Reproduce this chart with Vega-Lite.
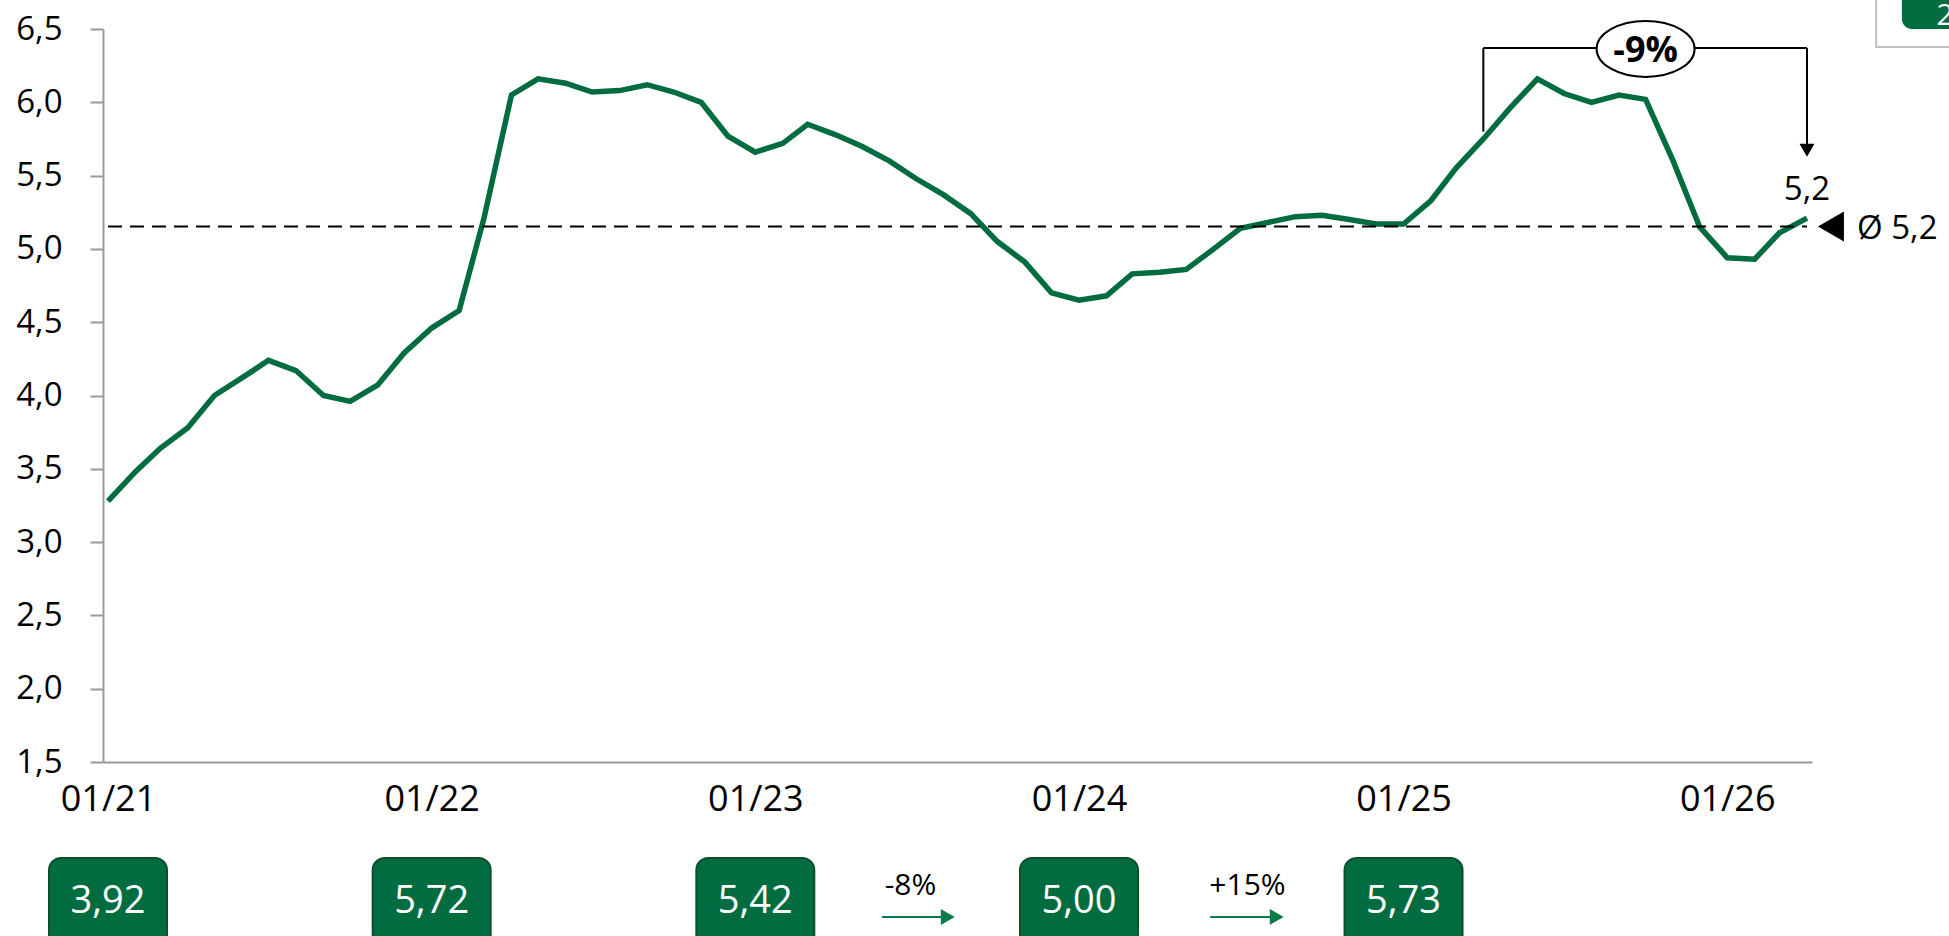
{
  "$schema": "https://vega.github.io/schema/vega-lite/v6.json",
  "usermeta": {"embedOptions": {"actions": false}},
  "background": "white",
  "width": 1709,
  "height": 733,
  "autosize": {"type": "none"},
  "padding": {"left": 103, "top": 29, "right": 137, "bottom": 174},
  "config": {
    "view": {"stroke": null},
    "font": "Open Sans",
    "locale": {"number": {"decimal": ",", "thousands": ".", "grouping": [3], "currency": ["", " €"]}}
  },
  "datasets": {
    "series": [
      {"date": "2021-01-01", "value": 3.28}, {"date": "2021-02-01", "value": 3.48}, {"date": "2021-03-01", "value": 3.64},
      {"date": "2021-04-01", "value": 3.78}, {"date": "2021-05-01", "value": 4.00}, {"date": "2021-06-01", "value": 4.12},
      {"date": "2021-07-01", "value": 4.24}, {"date": "2021-08-01", "value": 4.17}, {"date": "2021-09-01", "value": 4.00},
      {"date": "2021-10-01", "value": 3.96}, {"date": "2021-11-01", "value": 4.07}, {"date": "2021-12-01", "value": 4.29},
      {"date": "2022-01-01", "value": 4.46}, {"date": "2022-02-01", "value": 4.58}, {"date": "2022-03-01", "value": 5.21},
      {"date": "2022-04-01", "value": 6.05}, {"date": "2022-05-01", "value": 6.16}, {"date": "2022-06-01", "value": 6.13},
      {"date": "2022-07-01", "value": 6.07}, {"date": "2022-08-01", "value": 6.08}, {"date": "2022-09-01", "value": 6.12},
      {"date": "2022-10-01", "value": 6.07}, {"date": "2022-11-01", "value": 6.00}, {"date": "2022-12-01", "value": 5.77},
      {"date": "2023-01-01", "value": 5.66}, {"date": "2023-02-01", "value": 5.72}, {"date": "2023-03-01", "value": 5.85},
      {"date": "2023-04-01", "value": 5.78}, {"date": "2023-05-01", "value": 5.70}, {"date": "2023-06-01", "value": 5.60},
      {"date": "2023-07-01", "value": 5.48}, {"date": "2023-08-01", "value": 5.37}, {"date": "2023-09-01", "value": 5.24},
      {"date": "2023-10-01", "value": 5.05}, {"date": "2023-11-01", "value": 4.91}, {"date": "2023-12-01", "value": 4.70},
      {"date": "2024-01-01", "value": 4.65}, {"date": "2024-02-01", "value": 4.68}, {"date": "2024-03-01", "value": 4.83},
      {"date": "2024-04-01", "value": 4.84}, {"date": "2024-05-01", "value": 4.86}, {"date": "2024-06-01", "value": 5.00},
      {"date": "2024-07-01", "value": 5.14}, {"date": "2024-08-01", "value": 5.18}, {"date": "2024-09-01", "value": 5.22},
      {"date": "2024-10-01", "value": 5.23}, {"date": "2024-11-01", "value": 5.20}, {"date": "2024-12-01", "value": 5.17},
      {"date": "2025-01-01", "value": 5.17}, {"date": "2025-02-01", "value": 5.33}, {"date": "2025-03-01", "value": 5.55},
      {"date": "2025-04-01", "value": 5.75}, {"date": "2025-05-01", "value": 5.96}, {"date": "2025-06-01", "value": 6.16},
      {"date": "2025-07-01", "value": 6.06}, {"date": "2025-08-01", "value": 6.00}, {"date": "2025-09-01", "value": 6.05},
      {"date": "2025-10-01", "value": 6.02}, {"date": "2025-11-01", "value": 5.60}, {"date": "2025-12-01", "value": 5.15},
      {"date": "2026-01-01", "value": 4.94}, {"date": "2026-02-01", "value": 4.93}, {"date": "2026-03-01", "value": 5.11},
      {"date": "2026-04-01", "value": 5.21}
    ],
    "annual": [
      {"year": "2021-01-01", "avg": 3.92},
      {"year": "2022-01-01", "avg": 5.72},
      {"year": "2023-01-01", "avg": 5.42},
      {"year": "2024-01-01", "avg": 5.00},
      {"year": "2025-01-01", "avg": 5.73}
    ],
    "note": [{"kind": "annotation"}]
  },
  "data": {"name": "series"},
  "layer": [
    {
      "mark": {"type": "line", "color": "#006c3f", "strokeWidth": 5.5},
      "encoding": {
        "x": {
          "field": "date", "type": "temporal",
          "scale": {"type": "utc", "domain": [{"year": 2021, "month": 1, "date": 1, "utc": true}, {"year": 2026, "month": 4, "date": 1, "utc": true}]},
          "axis": {
            "title": null, "format": "%m/%y",
            "values": [
              {"year": 2021, "month": 1, "date": 1, "utc": true}, {"year": 2022, "month": 1, "date": 1, "utc": true},
              {"year": 2023, "month": 1, "date": 1, "utc": true}, {"year": 2024, "month": 1, "date": 1, "utc": true},
              {"year": 2025, "month": 1, "date": 1, "utc": true}, {"year": 2026, "month": 1, "date": 1, "utc": true}
            ],
            "ticks": false, "tickSize": 0, "labelPadding": 20, "labelFontSize": 36, "labelColor": "#000000",
            "labelFont": "Open Sans", "domainColor": "#999999", "domainWidth": 2, "grid": false,
            "labelFlush": false, "labelOverlap": false
          }
        },
        "y": {
          "field": "value", "type": "quantitative",
          "scale": {"domain": [1.5, 6.5], "zero": false, "nice": false},
          "axis": {
            "title": null, "values": [1.5, 2, 2.5, 3, 3.5, 4, 4.5, 5, 5.5, 6, 6.5],
            "labelExpr": "replace(format(datum.value, '.1f'), '.', ',')",
            "tickSize": 13, "tickColor": "#999999", "tickWidth": 2, "domainColor": "#999999", "domainWidth": 2,
            "labelPadding": 28, "labelFontSize": 33, "labelColor": "#000000", "labelFont": "Open Sans",
            "grid": false, "labelFlush": false, "labelOverlap": false
          }
        }
      }
    },
    {
      "transform": [
        {"aggregate": [
          {"op": "mean", "field": "value", "as": "mean"},
          {"op": "min", "field": "date", "as": "first"},
          {"op": "max", "field": "date", "as": "last"}
        ]},
        {"calculate": "'Ø ' + replace(format(datum.mean, '.1f'), '.', ',')", "as": "meanLabel"}
      ],
      "layer": [
        {
          "mark": {"type": "rule", "color": "#000000", "strokeWidth": 2, "strokeDash": [14, 8]},
          "encoding": {
            "x": {"field": "first", "type": "temporal"},
            "x2": {"field": "last"},
            "y": {"field": "mean", "type": "quantitative"}
          }
        },
        {
          "mark": {"type": "text", "align": "left", "baseline": "middle", "dx": 50, "dy": 3, "fontSize": 33, "color": "#000000", "font": "Open Sans"},
          "encoding": {
            "x": {"field": "last", "type": "temporal"},
            "y": {"field": "mean", "type": "quantitative"},
            "text": {"field": "meanLabel"}
          }
        },
        {
          "mark": {"type": "point", "shape": "triangle-left", "filled": true, "color": "#000000", "size": 900, "opacity": 1},
          "encoding": {
            "x": {"datum": {"year": 2026, "month": 4, "date": 28, "utc": true}, "type": "temporal"},
            "y": {"field": "mean", "type": "quantitative"}
          }
        }
      ]
    },
    {
      "transform": [
        {"joinaggregate": [{"op": "max", "field": "date", "as": "lastDate"}]},
        {"filter": "time(datum.date) === time(datum.lastDate)"},
        {"calculate": "replace(format(datum.value, '.1f'), '.', ',')", "as": "lbl"}
      ],
      "mark": {"type": "text", "fontSize": 33, "dy": -28, "baseline": "middle", "align": "center", "color": "#000000", "font": "Open Sans"},
      "encoding": {
        "x": {"field": "date", "type": "temporal"},
        "y": {"field": "value", "type": "quantitative"},
        "text": {"field": "lbl"}
      }
    },
    {
      "data": {"name": "annual"},
      "layer": [
        {
          "mark": {"type": "bar", "width": 118, "cornerRadius": 12, "fill": "#006c3f", "stroke": "#0b4f2e", "strokeWidth": 2},
          "encoding": {
            "x": {"field": "year", "type": "temporal"},
            "y": {"datum": 0.845, "type": "quantitative"},
            "y2": {"datum": 0.245}
          }
        },
        {
          "transform": [{"calculate": "replace(format(datum.avg, '.2f'), '.', ',')", "as": "lbl"}],
          "mark": {"type": "text", "fontSize": 38, "color": "#ffffff", "align": "center", "baseline": "middle", "font": "Open Sans"},
          "encoding": {
            "x": {"field": "year", "type": "temporal"},
            "y": {"datum": 0.545, "type": "quantitative"},
            "text": {"field": "lbl"}
          }
        }
      ]
    },
    {
      "data": {"name": "note"},
      "layer": [
        {
          "mark": {"type": "rule", "color": "#000000", "strokeWidth": 2},
          "encoding": {
            "x": {"datum": {"year": 2025, "month": 4, "date": 1, "utc": true}, "type": "temporal"},
            "y": {"datum": 5.80, "type": "quantitative"},
            "y2": {"datum": 6.37}
          }
        },
        {
          "mark": {"type": "rule", "color": "#000000", "strokeWidth": 2},
          "encoding": {
            "x": {"datum": {"year": 2025, "month": 4, "date": 1, "utc": true}, "type": "temporal"},
            "x2": {"datum": {"year": 2026, "month": 4, "date": 1, "utc": true}},
            "y": {"datum": 6.37, "type": "quantitative"}
          }
        },
        {
          "mark": {"type": "rule", "color": "#000000", "strokeWidth": 2},
          "encoding": {
            "x": {"datum": {"year": 2026, "month": 4, "date": 1, "utc": true}, "type": "temporal"},
            "y": {"datum": 6.37, "type": "quantitative"},
            "y2": {"datum": 5.70}
          }
        },
        {
          "mark": {"type": "point", "shape": "triangle-down", "filled": true, "color": "#000000", "size": 225, "opacity": 1},
          "encoding": {
            "x": {"datum": {"year": 2026, "month": 4, "date": 1, "utc": true}, "type": "temporal"},
            "y": {"datum": 5.673, "type": "quantitative"}
          }
        },
        {
          "mark": {"type": "point", "shape": "M -1.75 0 A 1.75 1 0 1 1 1.75 0 A 1.75 1 0 1 1 -1.75 0 Z", "filled": true, "fill": "#ffffff", "stroke": "#000000", "strokeWidth": 2, "size": 3136, "opacity": 1},
          "encoding": {
            "x": {"datum": {"year": 2025, "month": 10, "date": 1, "utc": true}, "type": "temporal"},
            "y": {"datum": 6.364, "type": "quantitative"}
          }
        },
        {
          "mark": {"type": "text", "text": "-9%", "fontSize": 36, "fontWeight": "bold", "align": "center", "baseline": "middle", "color": "#000000", "font": "Open Sans"},
          "encoding": {
            "x": {"datum": {"year": 2025, "month": 10, "date": 1, "utc": true}, "type": "temporal"},
            "y": {"datum": 6.35, "type": "quantitative"}
          }
        },
        {
          "mark": {"type": "rule", "color": "#0a7a48", "strokeWidth": 2},
          "encoding": {
            "x": {"datum": {"year": 2023, "month": 5, "date": 24, "utc": true}, "type": "temporal"},
            "x2": {"datum": {"year": 2023, "month": 8, "date": 6, "utc": true}},
            "y": {"datum": 0.443, "type": "quantitative"}
          }
        },
        {
          "mark": {"type": "point", "shape": "triangle-right", "filled": true, "color": "#0a7a48", "size": 256, "opacity": 1},
          "encoding": {
            "x": {"datum": {"year": 2023, "month": 8, "date": 6, "utc": true}, "type": "temporal"},
            "y": {"datum": 0.443, "type": "quantitative"}
          }
        },
        {
          "mark": {"type": "text", "text": "-8%", "fontSize": 30, "align": "center", "baseline": "middle", "color": "#000000", "font": "Open Sans"},
          "encoding": {
            "x": {"datum": {"year": 2023, "month": 6, "date": 25, "utc": true}, "type": "temporal"},
            "y": {"datum": 0.654, "type": "quantitative"}
          }
        },
        {
          "mark": {"type": "rule", "color": "#0a7a48", "strokeWidth": 2},
          "encoding": {
            "x": {"datum": {"year": 2024, "month": 5, "date": 28, "utc": true}, "type": "temporal"},
            "x2": {"datum": {"year": 2024, "month": 8, "date": 11, "utc": true}},
            "y": {"datum": 0.443, "type": "quantitative"}
          }
        },
        {
          "mark": {"type": "point", "shape": "triangle-right", "filled": true, "color": "#0a7a48", "size": 256, "opacity": 1},
          "encoding": {
            "x": {"datum": {"year": 2024, "month": 8, "date": 11, "utc": true}, "type": "temporal"},
            "y": {"datum": 0.443, "type": "quantitative"}
          }
        },
        {
          "mark": {"type": "text", "text": "+15%", "fontSize": 30, "align": "center", "baseline": "middle", "color": "#000000", "font": "Open Sans"},
          "encoding": {
            "x": {"datum": {"year": 2024, "month": 7, "date": 9, "utc": true}, "type": "temporal"},
            "y": {"datum": 0.654, "type": "quantitative"}
          }
        },
        {
          "mark": {"type": "rect", "fill": "#ffffff", "stroke": "#c0c0c0", "strokeWidth": 2},
          "encoding": {
            "x": {"datum": {"year": 2026, "month": 6, "date": 18, "utc": true}, "type": "temporal"},
            "x2": {"datum": {"year": 2026, "month": 10, "date": 1, "utc": true}},
            "y": {"datum": 6.377, "type": "quantitative"},
            "y2": {"datum": 6.9}
          }
        },
        {
          "mark": {"type": "rect", "fill": "#006c3f", "cornerRadius": 10},
          "encoding": {
            "x": {"datum": {"year": 2026, "month": 7, "date": 17, "utc": true}, "type": "temporal"},
            "x2": {"datum": {"year": 2026, "month": 10, "date": 1, "utc": true}},
            "y": {"datum": 6.5, "type": "quantitative"},
            "y2": {"datum": 6.9}
          }
        },
        {
          "mark": {"type": "text", "text": "2", "fontSize": 30, "align": "left", "baseline": "middle", "color": "#ffffff", "font": "Open Sans"},
          "encoding": {
            "x": {"datum": {"year": 2026, "month": 8, "date": 25, "utc": true}, "type": "temporal"},
            "y": {"datum": 6.59, "type": "quantitative"}
          }
        }
      ]
    }
  ]
}
